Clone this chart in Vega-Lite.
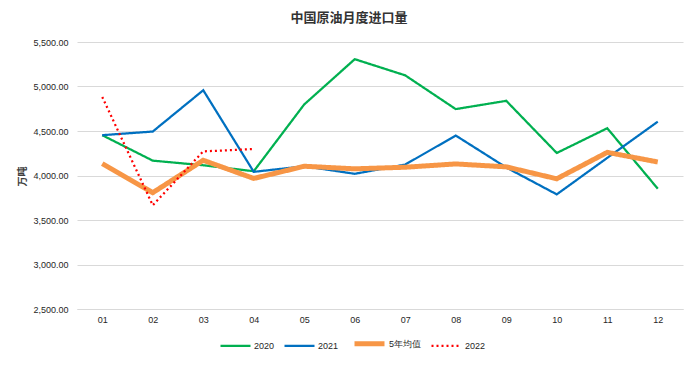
{
  "$schema": "https://vega.github.io/schema/vega-lite/v6.json",
  "width": 606,
  "height": 267,
  "autosize": {"type": "none"},
  "padding": {"left": 77, "top": 42, "right": 15, "bottom": 57},
  "background": "white",
  "title": {
    "text": "中国原油月度进口量",
    "anchor": "middle",
    "frame": "group",
    "dx": -31,
    "offset": 13,
    "font": "Noto Sans CJK SC",
    "fontSize": 13,
    "fontWeight": "bold",
    "color": "#333333"
  },
  "data": {
    "values": [
      {"m": "01", "s": "2020", "v": 4453},
      {"m": "02", "s": "2020", "v": 4167},
      {"m": "03", "s": "2020", "v": 4115},
      {"m": "04", "s": "2020", "v": 4048},
      {"m": "05", "s": "2020", "v": 4799},
      {"m": "06", "s": "2020", "v": 5307},
      {"m": "07", "s": "2020", "v": 5125},
      {"m": "08", "s": "2020", "v": 4746},
      {"m": "09", "s": "2020", "v": 4839},
      {"m": "10", "s": "2020", "v": 4253},
      {"m": "11", "s": "2020", "v": 4531},
      {"m": "12", "s": "2020", "v": 3852},
      {"m": "01", "s": "2021", "v": 4453},
      {"m": "02", "s": "2021", "v": 4494},
      {"m": "03", "s": "2021", "v": 4958},
      {"m": "04", "s": "2021", "v": 4041},
      {"m": "05", "s": "2021", "v": 4104},
      {"m": "06", "s": "2021", "v": 4019},
      {"m": "07", "s": "2021", "v": 4123},
      {"m": "08", "s": "2021", "v": 4449},
      {"m": "09", "s": "2021", "v": 4090},
      {"m": "10", "s": "2021", "v": 3788},
      {"m": "11", "s": "2021", "v": 4198},
      {"m": "12", "s": "2021", "v": 4605},
      {"m": "01", "s": "5年均值", "v": 4134},
      {"m": "02", "s": "5年均值", "v": 3807},
      {"m": "03", "s": "5年均值", "v": 4171},
      {"m": "04", "s": "5年均值", "v": 3967},
      {"m": "05", "s": "5年均值", "v": 4104},
      {"m": "06", "s": "5年均值", "v": 4075},
      {"m": "07", "s": "5年均值", "v": 4093},
      {"m": "08", "s": "5年均值", "v": 4130},
      {"m": "09", "s": "5年均值", "v": 4097},
      {"m": "10", "s": "5年均值", "v": 3963},
      {"m": "11", "s": "5年均值", "v": 4260},
      {"m": "12", "s": "5年均值", "v": 4152},
      {"m": "01", "s": "2022", "v": 4883},
      {"m": "02", "s": "2022", "v": 3666},
      {"m": "03", "s": "2022", "v": 4271},
      {"m": "04", "s": "2022", "v": 4297}
    ]
  },
  "mark": {"type": "line", "strokeCap": "butt", "strokeJoin": "miter"},
  "encoding": {
    "x": {
      "field": "m",
      "type": "ordinal",
      "scale": {"padding": 0.5},
      "axis": {
        "title": null,
        "labelAngle": 0,
        "ticks": false,
        "domain": true,
        "domainColor": "#d9d9d9",
        "labelPadding": 6,
        "labelFont": "Liberation Sans",
        "labelFontSize": 9,
        "labelColor": "#262626"
      }
    },
    "y": {
      "field": "v",
      "type": "quantitative",
      "scale": {"domain": [2500, 5500], "nice": false, "zero": false},
      "axis": {
        "title": "万吨",
        "values": [2500, 3000, 3500, 4000, 4500, 5000, 5500],
        "format": ",.2f",
        "ticks": false,
        "domain": false,
        "gridColor": "#d9d9d9",
        "gridWidth": 1,
        "labelPadding": 9,
        "labelFont": "Liberation Sans",
        "labelFontSize": 9,
        "labelColor": "#262626",
        "titleFont": "Noto Sans CJK SC",
        "titleFontSize": 10,
        "titleFontWeight": "bold",
        "titleColor": "#404040",
        "titleAngle": -90,
        "titleAlign": "center",
        "titleBaseline": "middle",
        "titleX": -55,
        "titleY": 134
      }
    },
    "color": {
      "field": "s",
      "type": "ordinal",
      "scale": {
        "domain": ["2020", "2021", "5年均值", "2022"],
        "range": ["#00b050", "#0070c0", "#f79646", "#ff0000"]
      },
      "legend": {
        "title": null,
        "orient": "none",
        "direction": "horizontal",
        "legendX": 142,
        "legendY": 284,
        "symbolType": "stroke",
        "symbolSize": 900,
        "labelFont": "Liberation Sans",
        "labelFontSize": 9,
        "labelColor": "#262626",
        "labelOffset": 2,
        "columnPadding": 5
      }
    },
    "strokeWidth": {
      "field": "s",
      "type": "ordinal",
      "scale": {
        "type": "ordinal",
        "domain": ["2020", "2021", "5年均值", "2022"],
        "range": [2.25, 2.25, 5, 2.25]
      }
    },
    "strokeDash": {
      "field": "s",
      "type": "ordinal",
      "scale": {
        "domain": ["2020", "2021", "5年均值", "2022"],
        "range": [[1, 0], [1, 0], [1, 0], [2, 3]]
      }
    }
  },
  "config": {
    "view": {"stroke": null},
    "font": "Liberation Sans"
  }
}
